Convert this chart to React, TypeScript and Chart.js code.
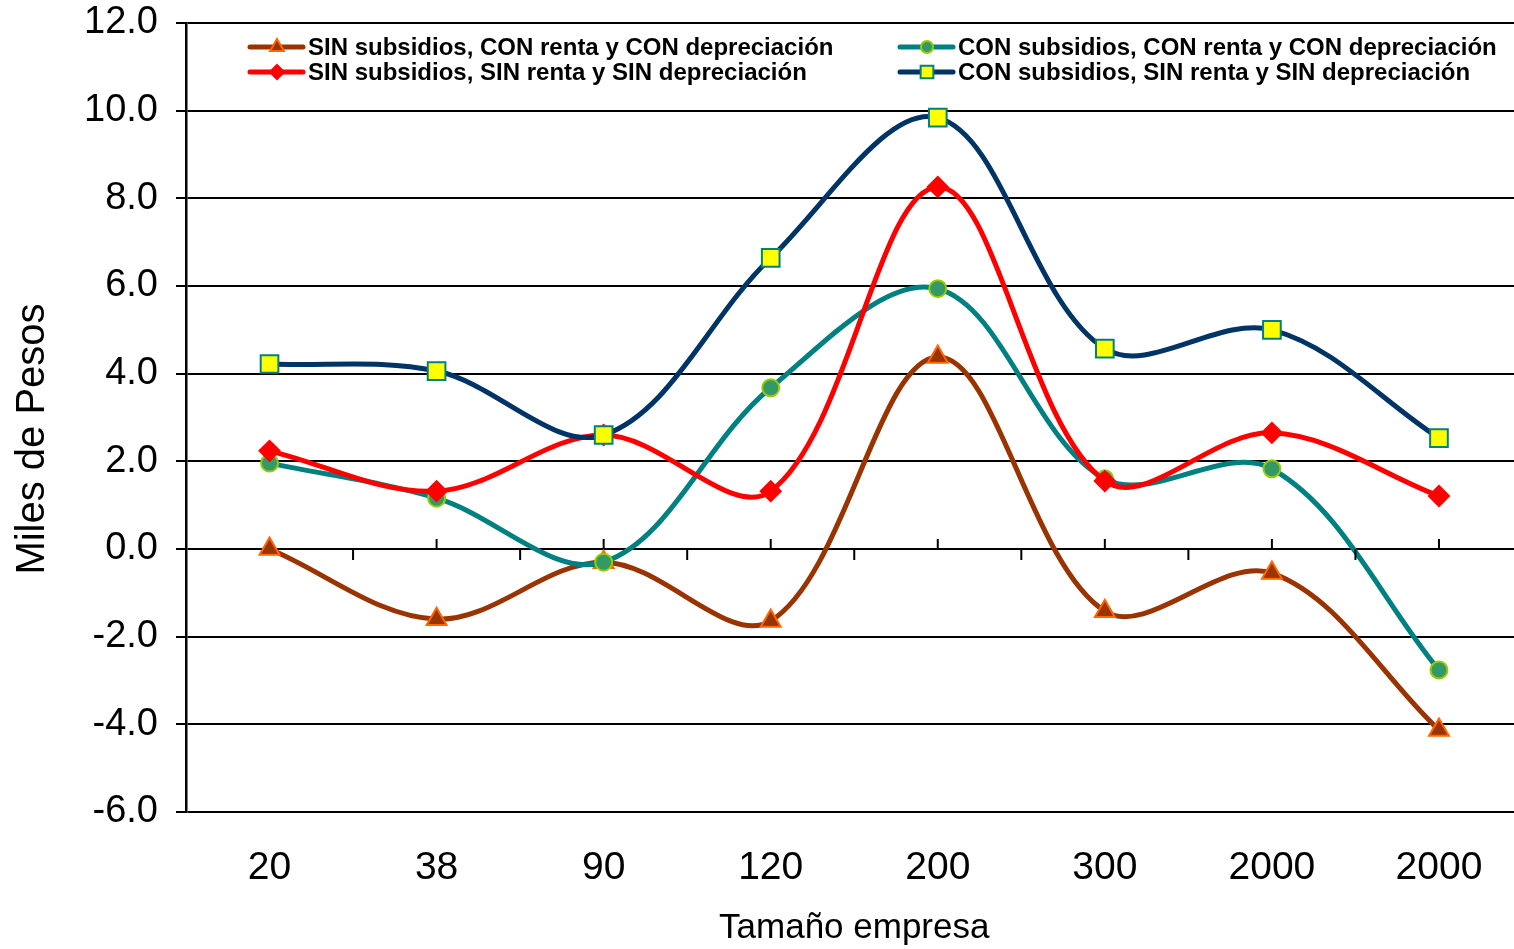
import React, { useEffect, useRef } from 'react';
import { Chart, registerables } from 'chart.js';

Chart.register(...registerables);

// ---- data ----
const categories = ['20', '38', '90', '120', '200', '300', '2000', '2000'];
const sinConConValues = [0.0, -1.6, -0.3, -1.64, 4.38, -1.42, -0.55, -4.13];
const conConConValues = [1.96, 1.16, -0.3, 3.68, 5.94, 1.6, 1.83, -2.76];
const sinSinSinValues = [2.24, 1.32, 2.6, 1.32, 8.26, 1.55, 2.65, 1.21];
const conSinSinValues = [4.22, 4.06, 2.6, 6.64, 9.84, 4.57, 5.0, 2.53];
const seriesLabels = [
  'SIN subsidios, CON renta y CON depreciación',
  'CON subsidios, CON renta y CON depreciación',
  'SIN subsidios, SIN renta y SIN depreciación',
  'CON subsidios, SIN renta y SIN depreciación',
];
const yMin = -6;
const yMax = 12;
const yStep = 2;
const xTitle = 'Tamaño empresa';
const yTitle = 'Miles de Pesos';

const BROWN = '#993300';
const TEAL = '#008080';
const RED = '#FF0000';
const NAVY = '#003366';
const FONT = '"Liberation Sans", Arial, sans-serif';
const CANVAS_W = 1537;
const CANVAS_H = 949;

function drawMarker(ctx: CanvasRenderingContext2D, style: string, x: number, y: number, r: number, fill: string, stroke: string, bw: number) {
  ctx.save();
  ctx.beginPath();
  if (style === 'triangle') {
    ctx.moveTo(x - Math.sin(Math.PI / 3) * r, y + r / 2);
    ctx.lineTo(x, y - r);
    ctx.lineTo(x + Math.sin(Math.PI / 3) * r, y + r / 2);
    ctx.closePath();
  } else if (style === 'circle') {
    ctx.arc(x, y, r, 0, Math.PI * 2);
  } else if (style === 'rectRot') {
    ctx.moveTo(x, y - r);
    ctx.lineTo(x + r, y);
    ctx.lineTo(x, y + r);
    ctx.lineTo(x - r, y);
    ctx.closePath();
  } else {
    const s = r * Math.SQRT1_2;
    ctx.rect(x - s, y - s, 2 * s, 2 * s);
  }
  ctx.fillStyle = fill;
  ctx.fill();
  ctx.lineWidth = bw;
  ctx.strokeStyle = stroke;
  ctx.stroke();
  ctx.restore();
}

const legendPlugin = {
  id: 'customLegend',
  afterDraw(chart: any) {
    const { ctx, chartArea } = chart;
    const left = chartArea.left;
    const top = chartArea.top;
    const cols = [left + 62, left + 712];
    const rows = [top + 24, top + 49];
    chart.data.datasets.forEach((d: any, i: number) => {
      const cx = cols[i % 2];
      const cy = rows[Math.floor(i / 2)];
      ctx.save();
      ctx.strokeStyle = d.borderColor;
      ctx.lineWidth = 5;
      ctx.lineCap = 'round';
      ctx.beginPath();
      ctx.moveTo(cx + 2, cy);
      ctx.lineTo(cx + 55, cy);
      ctx.stroke();
      ctx.restore();
      const r = d.pointStyle === 'rect' ? 9 : d.pointStyle === 'triangle' ? 8 : d.pointStyle === 'rectRot' ? 7 : 6;
      drawMarker(ctx, d.pointStyle, cx + 29, cy, r, d.pointBackgroundColor, d.pointBorderColor, 2);
      ctx.save();
      ctx.fillStyle = '#000';
      ctx.font = 'bold 24px ' + FONT;
      ctx.textAlign = 'left';
      ctx.textBaseline = 'middle';
      ctx.fillText(d.label, cx + 60, cy + 1);
      ctx.restore();
    });
  },
};

const zeroAxisPlugin = {
  id: 'zeroAxisTicks',
  afterDatasetsDraw(chart: any) {
    const { ctx } = chart;
    const xs = chart.scales.x;
    const ys = chart.scales.y;
    const y0 = ys.getPixelForValue(0);
    const n = categories.length;
    const w = xs.getPixelForValue(1) - xs.getPixelForValue(0);
    ctx.save();
    ctx.strokeStyle = '#000';
    ctx.lineWidth = 2;
    ctx.beginPath();
    for (let i = 1; i < n; i++) {
      const c = xs.getPixelForValue(i);
      ctx.moveTo(c, y0);
      ctx.lineTo(c, y0 - 10);
      const b = c - w / 2;
      ctx.moveTo(b, y0);
      ctx.lineTo(b, y0 + 11);
    }
    ctx.stroke();
    ctx.restore();
  },
};

const yTitlePlugin = {
  id: 'yTitle',
  afterDraw(chart: any) {
    const { ctx } = chart;
    ctx.save();
    ctx.translate(33, 439);
    ctx.rotate(-Math.PI / 2);
    ctx.fillStyle = '#000';
    ctx.font = '40px ' + FONT;
    ctx.textAlign = 'center';
    ctx.textBaseline = 'middle';
    ctx.fillText(yTitle, 0, 0);
    ctx.restore();
  },
};

export default function App() {
  const ref = useRef<HTMLCanvasElement | null>(null);
  useEffect(() => {
    if (!ref.current) return;
    const mk = (label: string, data: number[], color: string, style: string, r: number, fill: string, stroke: string, order: number) => ({
      label,
      data,
      borderColor: color,
      backgroundColor: color,
      borderWidth: 5,
      tension: 0.35,
      pointStyle: style,
      pointRadius: r,
      pointHoverRadius: r,
      pointBackgroundColor: fill,
      pointBorderColor: stroke,
      pointBorderWidth: 2,
      order,
      fill: false,
    });
    const chart = new Chart(ref.current, {
      type: 'line',
      data: {
        labels: categories,
        datasets: [
          mk(seriesLabels[0], sinConConValues, BROWN, 'triangle', 11.5, BROWN, '#FF6600', 4),
          mk(seriesLabels[1], conConConValues, TEAL, 'circle', 8.5, '#339966', '#99CC00', 3),
          mk(seriesLabels[2], sinSinSinValues, RED, 'rectRot', 10, RED, RED, 2),
          mk(seriesLabels[3], conSinSinValues, NAVY, 'rect', 12.5, '#FFFF00', '#008080', 1),
        ] as any,
      },
      options: {
        animation: false,
        responsive: false,
        devicePixelRatio: 1,
        layout: { padding: { left: 0, top: 23, right: 8, bottom: 0 } },
        plugins: {
          legend: { display: false },
          tooltip: { enabled: false },
        },
        scales: {
          x: {
            offset: true,
            grid: { display: false },
            border: { display: false },
            ticks: {
              color: '#000',
              font: { family: FONT, size: 39 },
              padding: 25,
              maxRotation: 0,
              autoSkip: false,
            },
            title: {
              display: true,
              text: xTitle,
              color: '#000',
              font: { family: FONT, size: 35 },
              padding: { top: 0, bottom: 0 },
            },
            afterFit: (s: any) => {
              s.height = 137;
              s.paddingLeft = 0;
              s.paddingRight = 0;
            },
          },
          y: {
            min: yMin,
            max: yMax,
            grid: {
              color: '#000',
              lineWidth: 2,
              tickLength: 10,
              tickColor: '#000',
              tickWidth: 2,
            },
            border: { display: true, color: '#000', width: 2.5 },
            ticks: {
              stepSize: yStep,
              color: '#000',
              font: { family: FONT, size: 38 },
              padding: 18,
              callback: (v: any) => Number(v).toFixed(1),
            },
            afterFit: (s: any) => {
              s.width = 186;
              s.paddingTop = 0;
              s.paddingBottom = 0;
            },
          },
        },
      },
      plugins: [zeroAxisPlugin, legendPlugin, yTitlePlugin],
    });
    return () => chart.destroy();
  }, []);
  return (
    <div style={{ position: 'fixed', left: 0, top: 0, width: CANVAS_W, height: CANVAS_H, background: '#fff' }}>
      <canvas ref={ref} width={CANVAS_W} height={CANVAS_H} style={{ display: 'block' }} />
    </div>
  );
}
